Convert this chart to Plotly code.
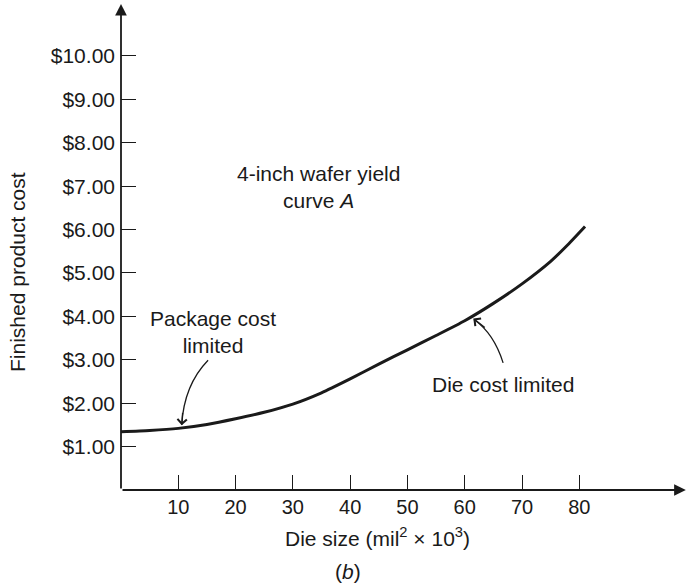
import plotly.graph_objects as go

# ---- data ----
die_size = [0, 5, 10, 15, 20, 25, 30, 35, 40, 45, 50, 55, 60, 65, 70, 75, 78, 81]
cost = [1.34, 1.37, 1.42, 1.51, 1.64, 1.79, 1.98, 2.24, 2.56, 2.90, 3.23, 3.56, 3.90, 4.30, 4.75, 5.27, 5.65, 6.07]

x_ticks = [10, 20, 30, 40, 50, 60, 70, 80]
x_ticklabels = ["10", "20", "30", "40", "50", "60", "70", "80"]
y_ticks = [1, 2, 3, 4, 5, 6, 7, 8, 9, 10]
y_ticklabels = ["$1.00", "$2.00", "$3.00", "$4.00", "$5.00", "$6.00", "$7.00", "$8.00", "$9.00", "$10.00"]

x_range = [0, 98.8]
y_range = [0, 11.29]

FONT = "Liberation Sans, Arial, Helvetica, sans-serif"
INK = "#1a1a1a"
FS = 21

W, H = 687, 584
L, R, T, B = 121, 0, 0, 94
pw, ph = W - L - R, H - T - B


def px_to_paper(px, py):
    return (px - L) / pw, 1 - (py - T) / ph


fig = go.Figure()
fig.add_trace(go.Scatter(
    x=die_size, y=cost, mode="lines",
    line=dict(color=INK, width=3, shape="spline", smoothing=0.6),
    hoverinfo="skip", showlegend=False,
))

fig.update_layout(
    width=W, height=H,
    margin=dict(l=L, r=R, t=T, b=B, autoexpand=False),
    paper_bgcolor="white", plot_bgcolor="white",
    font=dict(family=FONT, size=FS, color=INK),
    showlegend=False,
    xaxis=dict(range=x_range, tickvals=x_ticks, ticktext=x_ticklabels,
               ticks="inside", ticklen=15, tickwidth=1.4, tickcolor=INK,
               showgrid=False, zeroline=False, showline=False, automargin=False,
               tickfont=dict(size=FS - 1), ticklabelstandoff=3),
    yaxis=dict(range=y_range, tickvals=y_ticks, ticktext=y_ticklabels,
               ticks="inside", ticklen=15, tickwidth=1.4, tickcolor=INK,
               showgrid=False, zeroline=False, showline=False, automargin=False,
               tickfont=dict(size=FS), ticklabelstandoff=5),
)

# axis lines with arrowheads
fig.add_annotation(x=98.6, y=0, ax=0, ay=0, xref="x", yref="y", axref="x", ayref="y",
                   text="", showarrow=True, arrowhead=2, arrowsize=1.3, arrowwidth=1.8,
                   arrowcolor=INK, standoff=0, startstandoff=0)
fig.add_annotation(x=0, y=11.2, ax=0, ay=0, xref="x", yref="y", axref="x", ayref="y",
                   text="", showarrow=True, arrowhead=2, arrowsize=1.3, arrowwidth=1.8,
                   arrowcolor=INK, standoff=0, startstandoff=0)

# titles positioned outside the plot area
for txt, (px, py), ang in [
    ("Finished product cost", (17, 272), -90),
    ("Die size (mil<sup>2</sup> × 10<sup>3</sup>)", (377, 537), 0),
    ("(<i>b</i>)", (348, 571), 0),
]:
    xp, yp = px_to_paper(px, py)
    fig.add_annotation(x=xp, y=yp, xref="paper", yref="paper", text=txt,
                       showarrow=False, textangle=ang, font=dict(size=FS),
                       xanchor="center", yanchor="middle")

# in-plot labels
fig.add_annotation(x=34.5, y=6.97, xref="x", yref="y", text="4-inch wafer yield<br>curve <i>A</i>",
                   showarrow=False, font=dict(size=FS), align="center")
fig.add_annotation(x=16.0, y=3.65, xref="x", yref="y", text="Package cost<br>limited",
                   showarrow=False, font=dict(size=FS), align="center")
fig.add_annotation(x=66.6, y=2.42, xref="x", yref="y", text="Die cost limited",
                   showarrow=False, font=dict(size=FS), align="center")

# curved callout arrows
fig.add_shape(type="path", xref="x", yref="y",
              path="M 15.2,2.99 Q 11.0,2.42 10.6,1.50",
              line=dict(color=INK, width=1.3))
fig.add_annotation(x=10.6, y=1.49, xref="x", yref="y", ax=1, ay=-14, text="",
                   showarrow=True, arrowhead=4, arrowsize=1.4, arrowwidth=1.3, arrowcolor=INK,
                   standoff=0)
fig.add_shape(type="path", xref="x", yref="y",
              path="M 66.7,2.93 Q 65.1,3.61 61.6,3.93",
              line=dict(color=INK, width=1.3))
fig.add_annotation(x=61.5, y=3.95, xref="x", yref="y", ax=13, ay=10, text="",
                   showarrow=True, arrowhead=4, arrowsize=1.4, arrowwidth=1.3, arrowcolor=INK,
                   standoff=0)

fig.write_html("out.html",
               config={"displayModeBar": False},
               post_script="document.body.style.margin='0';document.body.style.padding='0';")
